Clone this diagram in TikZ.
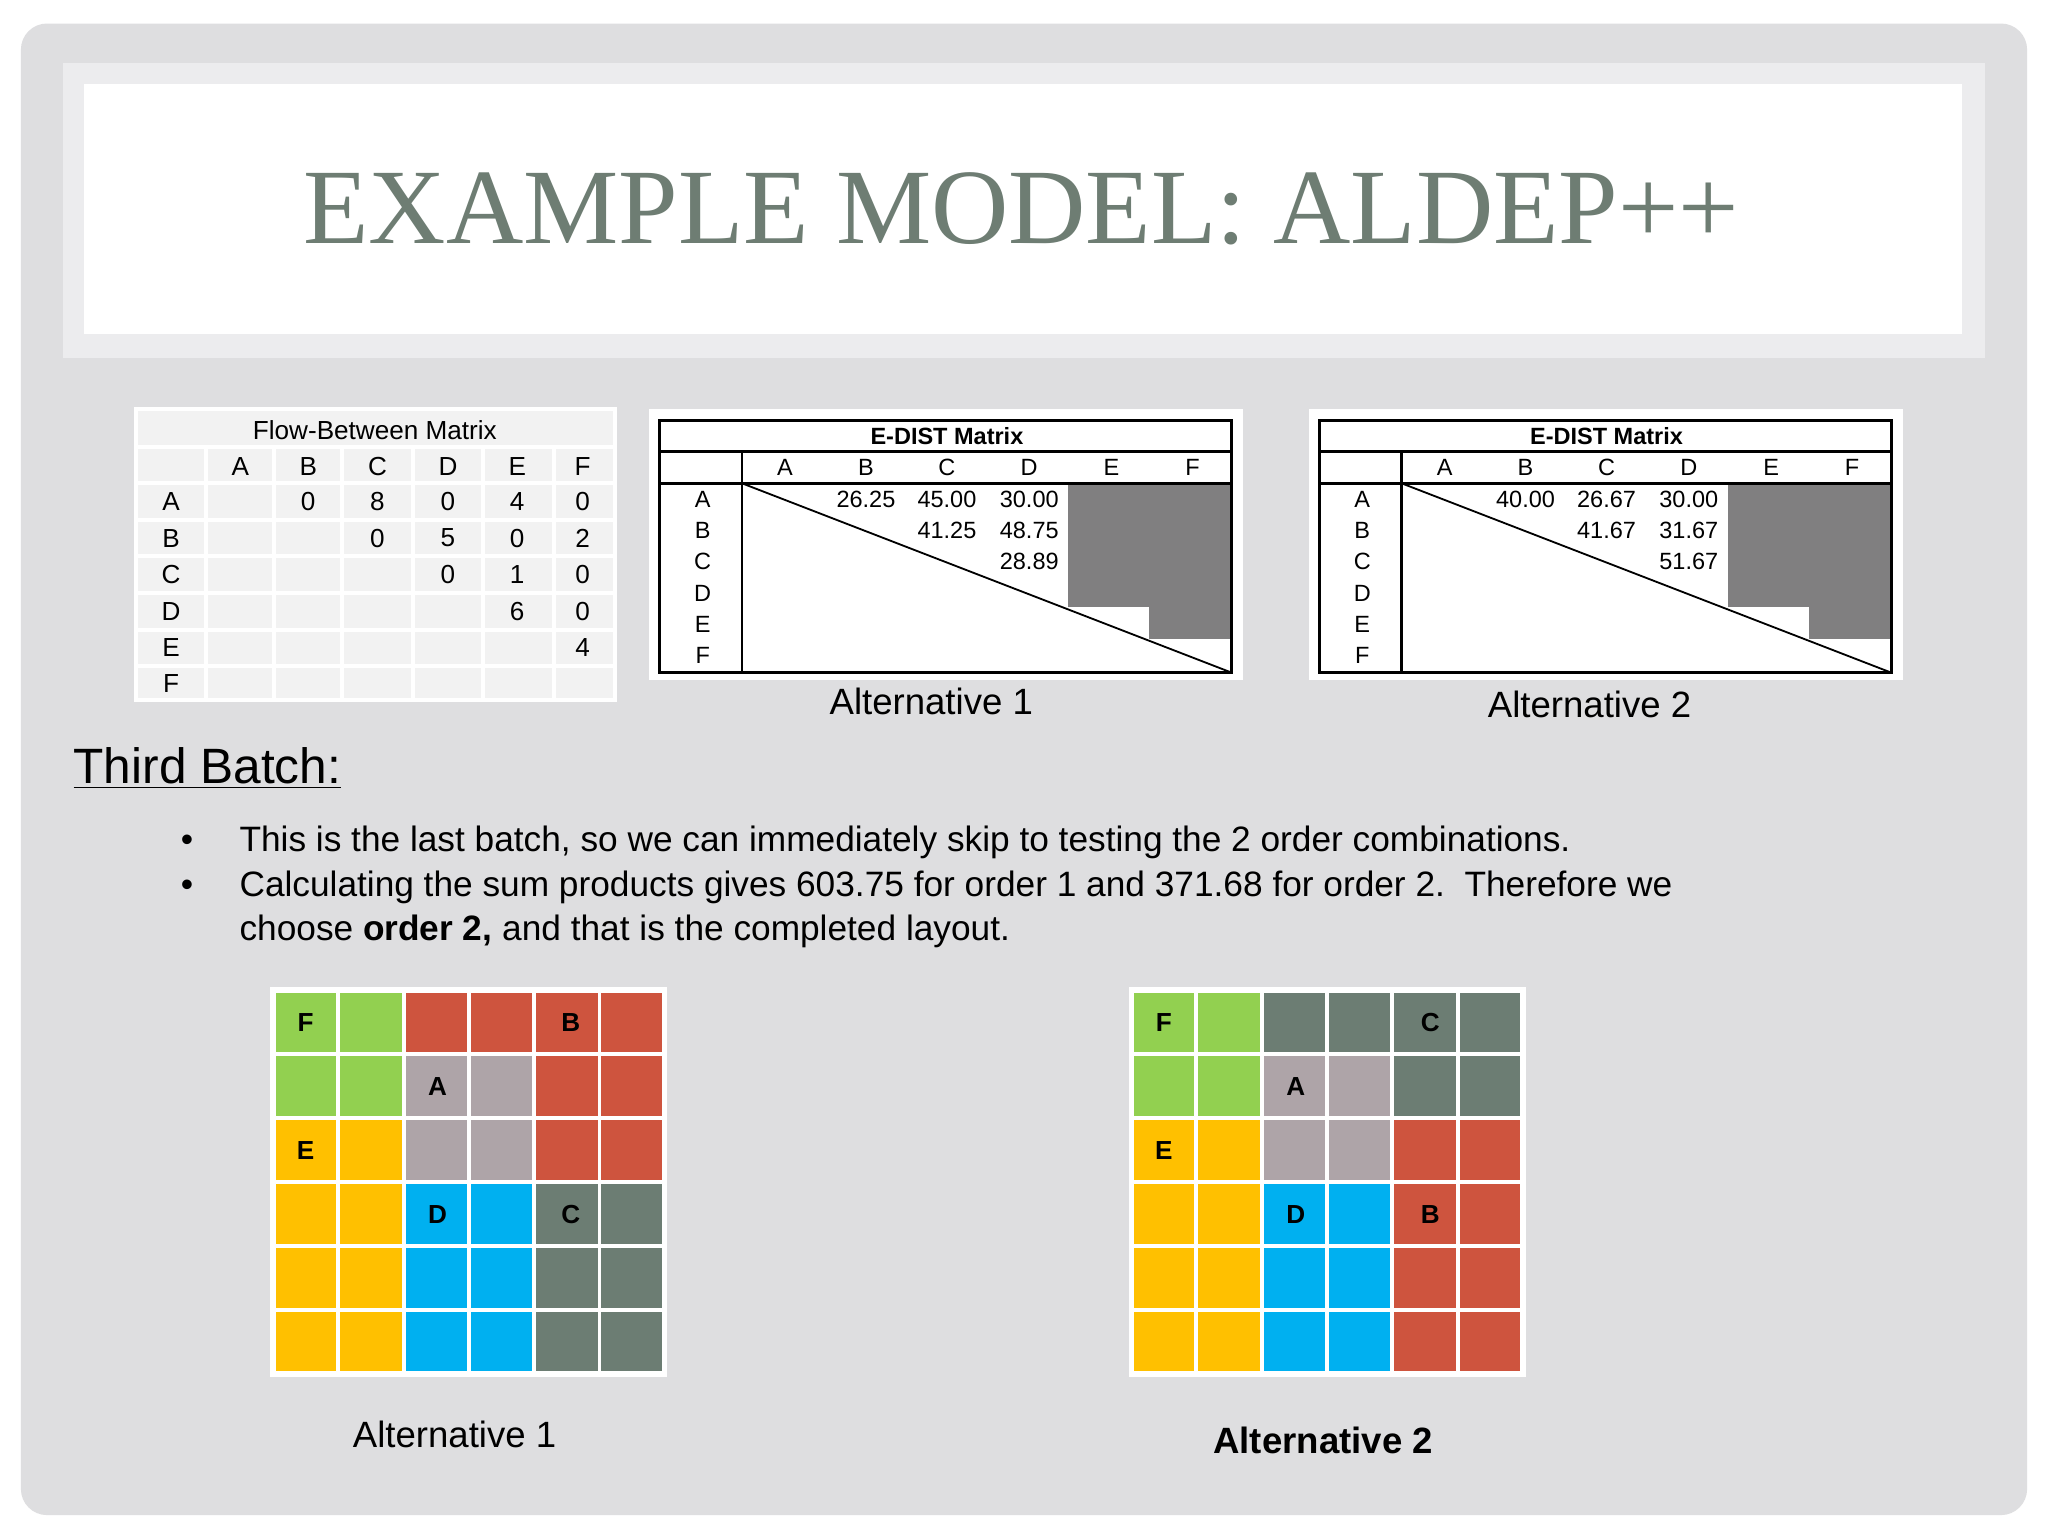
\documentclass[tikz,border=0pt]{standalone}
\usepackage{fontspec}
\setmainfont{Liberation Sans}
\newfontfamily\titlefont{Liberation Serif}
\usetikzlibrary{calc}
\definecolor{bg}{RGB}{222,222,224}
\definecolor{band}{RGB}{236,236,238}
\definecolor{ttl}{RGB}{110,125,115}
\definecolor{fcell}{RGB}{242,242,242}
\definecolor{cG}{RGB}{146,208,80}
\definecolor{cR}{RGB}{206,84,62}
\definecolor{cP}{RGB}{174,164,168}
\definecolor{cY}{RGB}{255,192,0}
\definecolor{cB}{RGB}{0,176,240}
\definecolor{cD}{RGB}{108,125,115}
\definecolor{dgray}{RGB}{128,127,128}
\tikzset{
 tbl/.style={font=\fontsize{10}{12}\selectfont, inner sep=0pt},
 edt/.style={font=\fontsize{9}{11}\selectfont, inner sep=0pt},
 captxt/.style={font=\fontsize{14}{16}\selectfont, inner sep=0pt},
 lbl/.style={font=\bfseries\fontsize{10}{12}\selectfont, inner sep=0pt},
}
\begin{document}
\begin{tikzpicture}[x=0.5pt,y=-0.5pt]
\useasboundingbox (0,0) rectangle (1568,1176);
\fill[white] (0,0) rectangle (1568,1176);
\fill[bg, rounded corners=10] (16,18) rectangle (1552,1160);
\fill[band] (48,48) rectangle (1520,274);
\fill[white] (64,64) rectangle (1502,256);
\node[ttl, font=\titlefont\fontsize{41}{45}\selectfont, inner sep=0pt] (title) at (782,160) {EXAMPLE MODEL: ALDEP++};

% Flow-between matrix
\fill[fcell] (104,313) rectangle (471,536);
\foreach \y in {342,370,398,426,454,482,510} \draw[white,line width=1.5] (104,\y) -- (471,\y);
\foreach \x in {158,210,262,316,370,424} \draw[white,line width=1.5] (\x,342) -- (\x,536);
\draw[white,line width=1.5] (104,313) rectangle (471,536);
\node[tbl] (fbt) at (287,329) {Flow-Between Matrix};
\foreach \l/\x in {A/184,B/236,C/289,D/343,E/396,F/446} \node[tbl] (fh\l) at (\x,357) {\l};
\foreach \l/\y in {A/384,B/412,C/440,D/468,E/496,F/523} \node[tbl] (fr\l) at (131,\y) {\l};
\foreach \v/\x/\y [count=\i] in {0/236/384,8/289/384,0/343/384,4/396/384,0/446/384,
  0/289/412,5/343/412,0/396/412,2/446/412,
  0/343/440,1/396/440,0/446/440,
  6/396/468,0/446/468,
  4/446/496} \node[tbl] (fv\i) at (\x,\y) {\v};

% E-DIST matrices
\foreach \o/\k/\va/\vb/\vc/\vd/\ve/\vf/\cx/\cy in {0/1/26.25/45.00/30.00/41.25/48.75/28.89/713/537, 505/2/40.00/26.67/30.00/41.67/31.67/51.67/1217/539}{
 \begin{scope}[xshift=\o*0.5pt]
 \fill[white] (497,313) rectangle (952,521);
 \fill[dgray] (818,370) rectangle (943,465);
 \fill[dgray] (880,465) rectangle (943,489);
 \draw[line width=1.2] (505,322) rectangle (943,515);
 \draw[line width=1.2] (505,346) -- (943,346);
 \draw[line width=1.2] (505,370) -- (943,370);
 \draw[line width=0.8] (568,346) -- (568,515);
 \draw[line width=0.7] (568,370) -- (943,515);
 \node[edt, font=\bfseries\fontsize{9}{11}\selectfont] (et\k) at (725,334) {E-DIST Matrix};
 \foreach \l/\x in {A/601,B/663,C/725,D/788,E/851,F/913} \node[edt] (eh\k\l) at (\x,358) {\l};
 \foreach \l/\y in {A/382,B/406,C/430,D/454,E/478,F/502} \node[edt] (er\k\l) at (538,\y) {\l};
 \node[edt] (ev\k a) at (663,382) {\va};
 \node[edt] (ev\k b) at (725,382) {\vb};
 \node[edt] (ev\k c) at (788,382) {\vc};
 \node[edt] (ev\k d) at (725,406) {\vd};
 \node[edt] (ev\k e) at (788,406) {\ve};
 \node[edt] (ev\k f) at (788,430) {\vf};
 \end{scope}
 \node[captxt] (ecap\k) at (\cx,\cy) {Alternative \k};
}

% Text
\node[anchor=base west, inner sep=0pt, font=\fontsize{19}{22}\selectfont] (tb) at (56,600) {\underline{Third Batch:}};
\node[anchor=base west, inner sep=0pt, font=\fontsize{13.5}{16}\selectfont] (b1) at (138,652) {\textbullet};
\node[anchor=base west, inner sep=0pt, font=\fontsize{13.5}{16}\selectfont] (b2) at (138,686) {\textbullet};
\node[anchor=base west, inner sep=0pt, font=\fontsize{13.5}{16}\selectfont] (t1) at (183,652) {This is the last batch, so we can immediately skip to testing the 2 order combinations.};
\node[anchor=base west, inner sep=0pt, font=\fontsize{13.5}{16}\selectfont] (t2) at (183,686) {Calculating the sum products gives 603.75 for order 1 and 371.68 for order 2.\ \ Therefore we};
\node[anchor=base west, inner sep=0pt, font=\fontsize{13.5}{16}\selectfont] (t3) at (183,720) {choose \textbf{order 2,} and that is the completed layout.};

% Layout grids
\def\cw{50}\def\ch{49}
\foreach \gx/\rows/\g in {209/{{G,G,R,R,R,R},{G,G,P,P,R,R},{Y,Y,P,P,R,R},{Y,Y,B,B,D,D},{Y,Y,B,B,D,D},{Y,Y,B,B,D,D}}/1,
   866/{{G,G,D,D,D,D},{G,G,P,P,D,D},{Y,Y,P,P,R,R},{Y,Y,B,B,R,R},{Y,Y,B,B,R,R},{Y,Y,B,B,R,R}}/2}{
  \foreach \row [count=\r from 0] in \rows {
    \foreach \c [count=\q from 0] in \row {
      \fill[c\c, draw=white, line width=1.5] (\gx+\q*\cw,758+\r*\ch) rectangle ++(\cw,\ch);
    }
  }
  \draw[white,line width=2] (\gx,758) rectangle ++(300,294);
}
\foreach \l/\x/\y [count=\i] in {F/234/783,B/437/783,A/335/832,E/234/881,D/335/930,C/437/930,
  F/891/783,C/1095/783,A/992/832,E/891/881,D/992/930,B/1095/930}
  \node[lbl] (gl\i) at (\x,\y) {\l};
\node[captxt] (gc1) at (348,1098) {Alternative 1};
\node[captxt, font=\bfseries\fontsize{14}{16}\selectfont] (gc2) at (1013,1103) {Alternative 2};
\end{tikzpicture}
\end{document}
